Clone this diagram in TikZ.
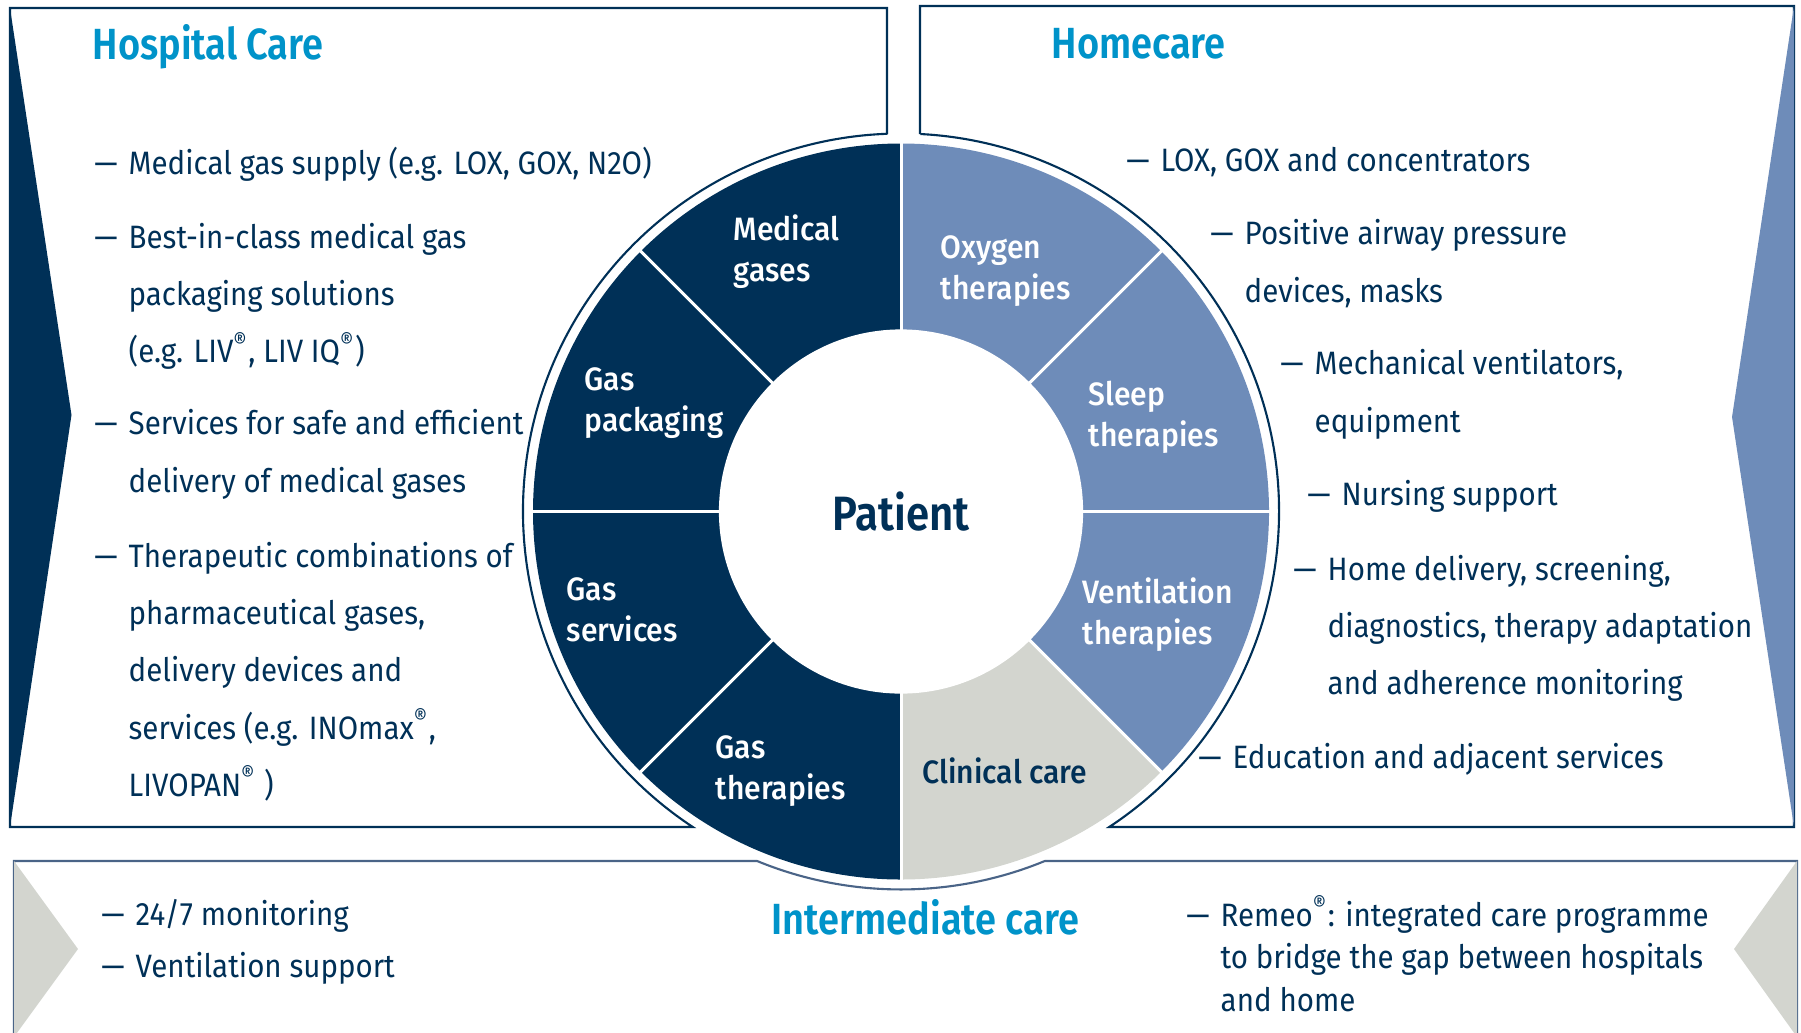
\documentclass[tikz,border=0pt]{standalone}
\usepackage{fontspec}
\setmainfont{Fira Sans}[FakeStretch=0.912]
\newfontfamily\medfont{Fira Sans Medium}[FakeStretch=0.93]
\newfontfamily\headfont{Fira Sans SemiBold}[FakeStretch=0.87]

\definecolor{carenavy}{RGB}{0,48,87}
\definecolor{homeblue}{RGB}{110,140,185}
\definecolor{clinicgrey}{RGB}{211,213,207}
\definecolor{headcyan}{RGB}{0,147,201}
\definecolor{framegrey}{RGB}{74,100,135}

% multi-line nodes sit on the baseline of their last line
\tikzset{
  frame/.style={draw=carenavy, line width=0.6pt},
  heading/.style={anchor=base west, inner sep=0pt, text=headcyan, font=\headfont\fontsize{12.4}{14}\selectfont},
  listtext/.style={anchor=base west, inner sep=0pt, align=left, text=carenavy, font=\fontsize{9.2}{16.3}\selectfont},
  segtext/.style={anchor=base west, inner sep=0pt, align=left, text=white, font=\medfont\fontsize{9.2}{11.8}\selectfont}
}
\newcommand{\bul}{\llap{\textemdash\hspace{0.11cm}}}
\newcommand{\reg}{\textsuperscript{\textregistered}}

\begin{document}
\begin{tikzpicture}[x=0.01cm, y=0.01cm]
  \useasboundingbox (0,0) rectangle (1801,1032);
  \clip (0,0) rectangle (1801,1032);

  % Frames around the three care areas
  \draw[frame] (887,898) -- (887,1024) -- (10,1024) -- (10,205) -- (692.8,205)
    arc[start angle=236.58, end angle=92.08, radius=378];
  \draw[frame] (920,898) -- (920,1026) -- (1794,1026) -- (1794,205) -- (1109.2,205)
    arc[start angle=-56.58, end angle=87.07, radius=378];
  \draw[frame, draw=framegrey] (14,-20) -- (14,171) -- (757.1,171)
    arc[start angle=247.63, end angle=292.37, radius=378] -- (1797,171) -- (1797,-20);

  % Side wedges
  \fill[carenavy] (10,1024) -- (71.5,617) -- (10,205) -- cycle;
  \fill[homeblue] (1794,1026) -- (1732,615) -- (1794,205) -- cycle;
  \fill[clinicgrey] (14,171) -- (78,83) -- (14,-5) -- cycle;
  \fill[clinicgrey] (1797,171) -- (1734,83) -- (1797,-5) -- cycle;

  % Ring of segments
  \begin{scope}[shift={(901,520.5)}]
    \foreach \a/\col in {90/carenavy,135/carenavy,180/carenavy,225/carenavy,
                         270/clinicgrey,315/homeblue,0/homeblue,45/homeblue}
      \fill[\col] (0,0) -- (\a:368) arc[start angle=\a, end angle=\a+45, radius=368] -- cycle;
    \foreach \a in {0,45,...,315}
      \draw[white, line width=0.85pt] (\a:170) -- (\a:372);
  \end{scope}
  \node[circle, fill=white, minimum size=3.64cm, inner sep=0pt, text=carenavy,
        font=\headfont\fontsize{13.7}{15}\selectfont] (patient) at (901,520.5) {Patient};

  % Segment labels
  \node[segtext] (medgas) at (733,750.5) {Medical\\gases};
  \node[segtext] (oxygen) at (940,732.5) {Oxygen\\therapies};
  \node[segtext] (packaging) at (584,600.5) {Gas\\packaging};
  \node[segtext] (sleep) at (1088,585.5) {Sleep\\therapies};
  \node[segtext] (services) at (566,390.5) {Gas\\services};
  \node[segtext] (ventilation) at (1082,387.5) {Ventilation\\therapies};
  \node[segtext] (gastherapy) at (715,232.5) {Gas\\therapies};
  \node[segtext, text=carenavy] (clinical) at (922,249) {Clinical care};

  % Headings
  \node[heading] (hosphead) at (92,973) {Hospital Care};
  \node[heading] (homehead) at (1051,974) {Homecare};
  \node[heading] (interhead) at (771,98) {Intermediate care};

  % Hospital care
  \node[listtext] (hosp1) at (128,858) {\bul Medical gas supply (e.g. LOX, GOX, N2O)};
  \node[listtext] (hosp2) at (128,669.3) {\bul Best-in-class medical gas\\packaging solutions\\(e.g. LIV\reg, LIV IQ\reg)};
  \node[listtext] (hosp3) at (128,539.7) {\bul Services for safe and efficient\\delivery of medical gases};
  \node[listtext] (hosp4) at (128,235.6) {\bul Therapeutic combinations of\\pharmaceutical gases,\\delivery devices and\\services (e.g. INOmax\reg,\\LIVOPAN\reg\ )};

  % Homecare
  \node[listtext] (home1) at (1160,861) {\bul LOX, GOX and concentrators};
  \node[listtext] (home2) at (1244,729.7) {\bul Positive airway pressure\\devices, masks};
  \node[listtext] (home3) at (1314,599.7) {\bul Mechanical ventilators,\\equipment};
  \node[listtext] (home4) at (1341,527) {\bul Nursing support};
  \node[listtext] (home5) at (1327,337.3) {\bul Home delivery, screening,\\diagnostics, therapy adaptation\\and adherence monitoring};
  \node[listtext] (home6) at (1232,264) {\bul Education and adjacent services};

  % Intermediate care
  \node[listtext, font=\fontsize{9.2}{14.8}\selectfont] (inter1) at (135,54.8) {\bul 24/7 monitoring\\\bul Ventilation support};
  \node[listtext, font=\fontsize{9.2}{12.1}\selectfont] (inter2) at (1220,20.8) {\bul Remeo\reg: integrated care programme\\to bridge the gap between hospitals\\and home};
\end{tikzpicture}
\end{document}
